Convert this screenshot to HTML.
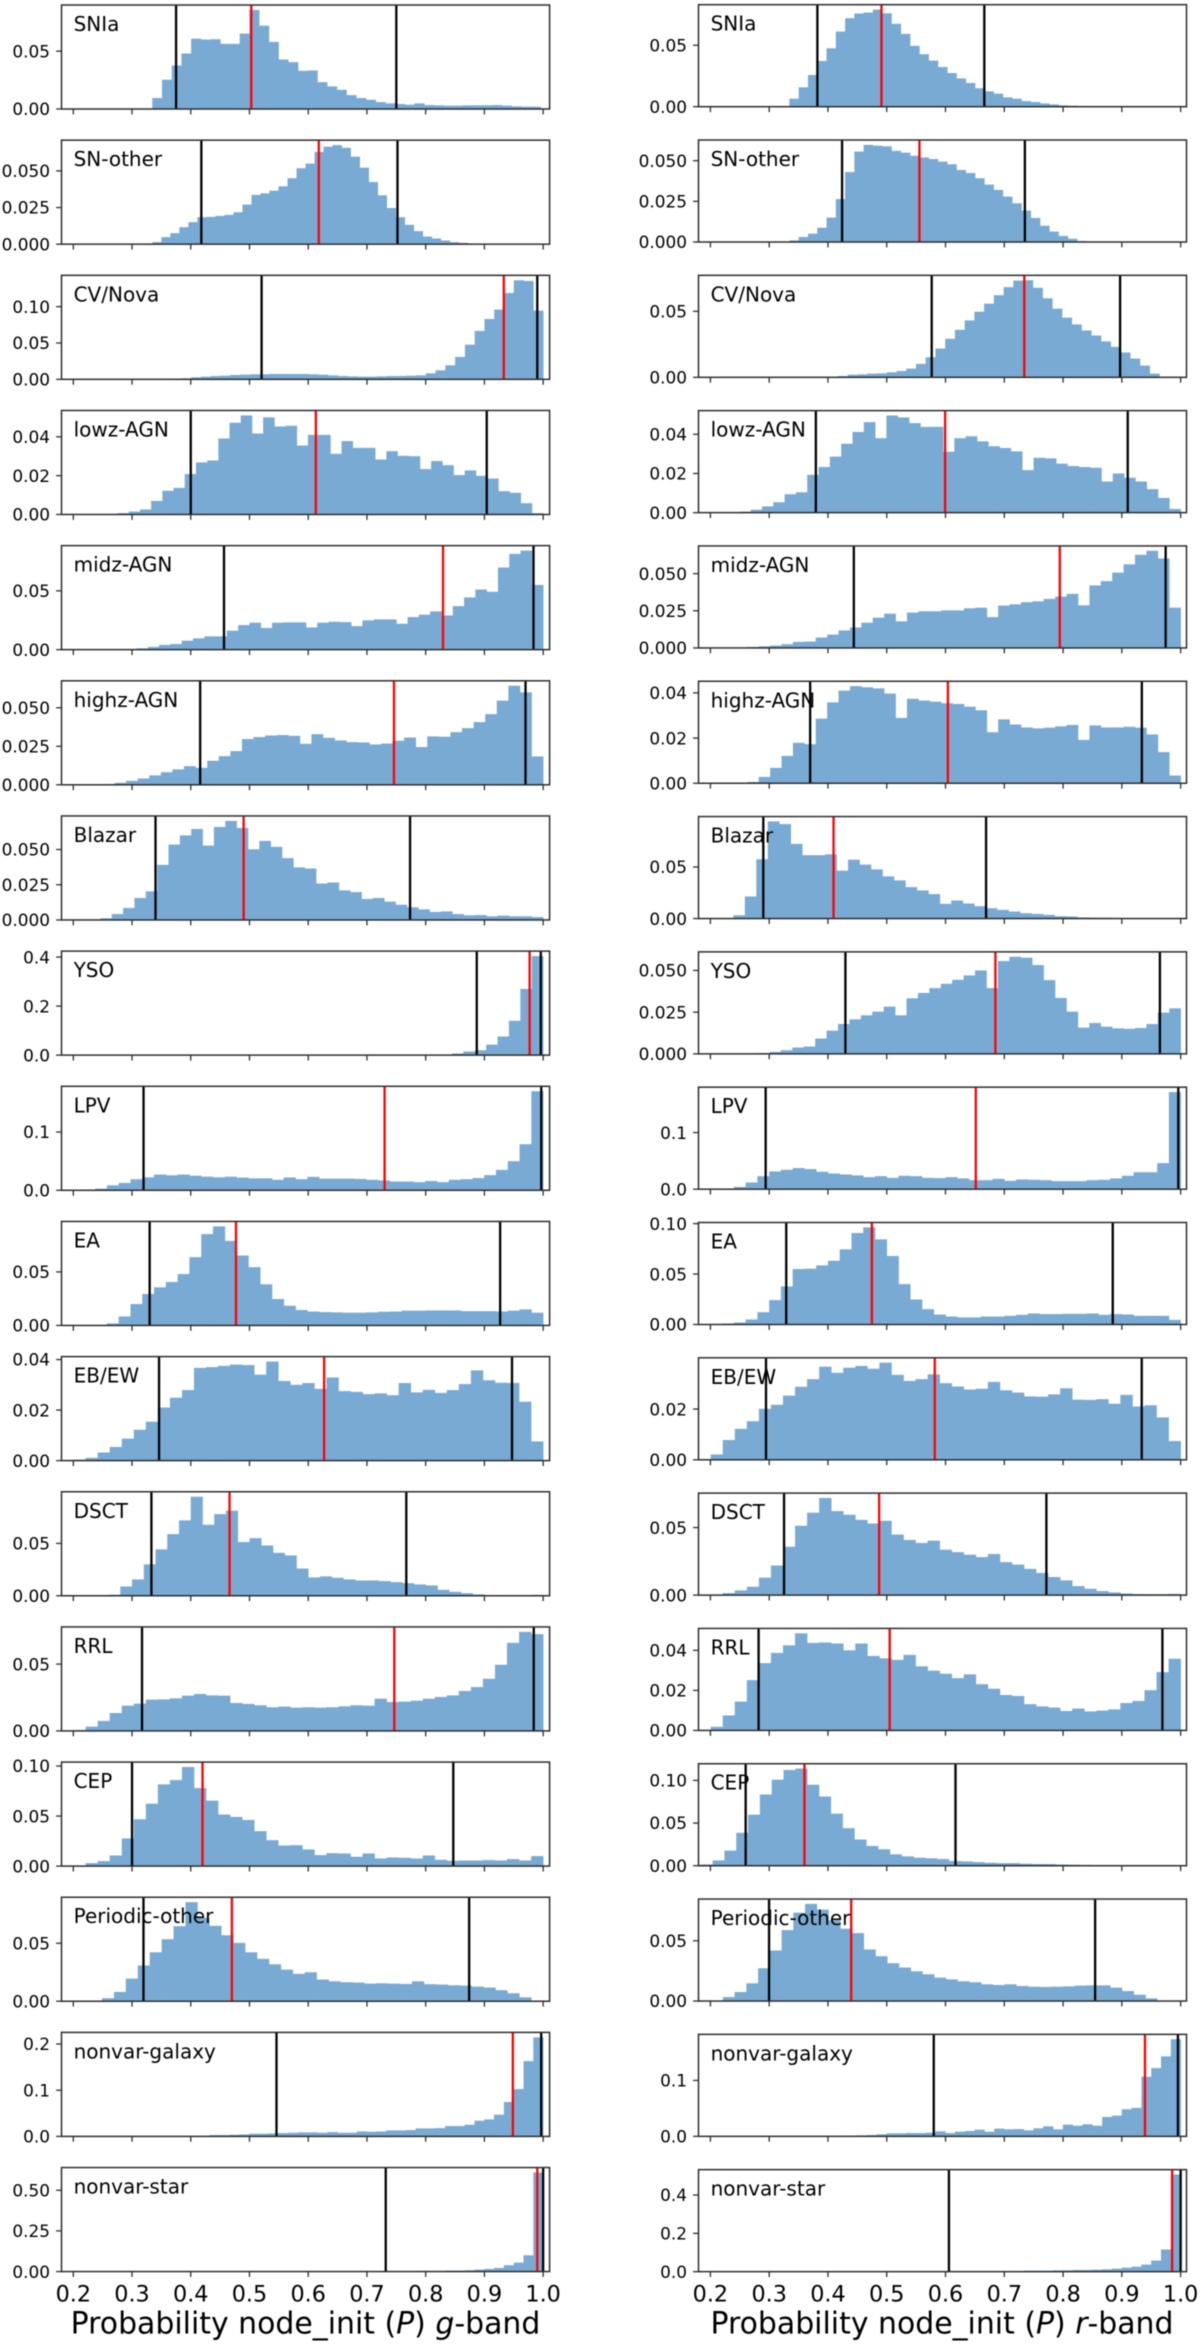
<!DOCTYPE html>
<html lang="en">
<head>
<meta charset="utf-8">
<title>Probability node_init histograms by class, g-band and r-band</title>
<style>
html,body{margin:0;padding:0;background:#fff;}
svg{display:block;filter:blur(0.45px);}
text{font-family:"DejaVu Sans","Liberation Sans",sans-serif;fill:#000;}
</style>
</head>
<body>
<svg id="chart" xmlns="http://www.w3.org/2000/svg" width="1200" height="2346" viewBox="0 0 1200 2346">
<rect x="0" y="0" width="1200" height="2346" fill="#fff"></rect>
<text x="305.5" y="2333.5" font-size="29.9" text-anchor="middle">Probability node_init (<tspan font-style="italic">P</tspan>) <tspan font-style="italic">g</tspan>-band</text>
<text x="942" y="2333.5" font-size="29.9" text-anchor="middle">Probability node_init (<tspan font-style="italic">P</tspan>) <tspan font-style="italic">r</tspan>-band</text>
</svg>
<script>
// Category names
const classNames = ['SNIa','SN-other','CV/Nova','lowz-AGN','midz-AGN','highz-AGN','Blazar','YSO','LPV','EA','EB/EW','DSCT','RRL','CEP','Periodic-other','nonvar-galaxy','nonvar-star'];
const xTickLabels = ['0.2','0.3','0.4','0.5','0.6','0.7','0.8','0.9','1.0'];
// Bin heights are in thousandths of the normalised fraction
const valueUnit = 0.001;

// g-band histograms
const gSNIa = [9.5,25.3,37.6,48,60.8,60,60.3,56.3,56.3,65.2,85.6,72,58,42.8,40.5,33,33.3,23.2,19.5,16.6,12,9.5,8,6,4.9,4.3,3.7,4.9,3.4,3.2,2.9,2.9,3.2,3.2,3.2,3.4,2.9,2.3,2,2];
const gSNOther = [1.4,4.8,7.5,11.6,15,18.4,18.6,19.3,20,21.8,27,33.6,34.7,36.5,39.5,45,51.8,55,63,66.5,67.6,65.8,59.7,52.2,42.4,33.4,24.7,18.4,13.2,8.9,5.2,3.9,2.5,1.4,0.9,0.4,0.3,0.2,0.1,0.1];
const gCVNova = [0.3,0.5,0.9,1.4,2.8,3.7,4.6,5,6,6.4,6.9,6.9,7.3,7.3,7.3,7.3,6.9,6.4,5.5,4.6,4.1,3.7,3.7,4.1,4.6,4.6,5,5.5,8.3,12.4,19.3,30.8,47.7,66.6,83,96,118.9,136.3,135.4,94.5];
const gLowz = [0,0.2,0.7,1.5,2.6,7,12.2,13.7,20.8,26.8,27.8,39.1,47.2,51,41.7,50,45.3,45.7,35.5,41,41,31.2,37.8,34.3,34.3,28.3,32.6,30.2,30,23.4,27.5,25.4,20.3,22.7,19.9,18.5,12,11.2,5.8,0.7];
const gMidz = [0,0.05,0.1,0.4,1.1,2.3,4,4.8,7.6,9.6,11.3,11.3,16.1,20.9,22.9,18.4,22.9,23.2,23.2,18.9,22.9,23.7,23.4,20,24.9,25.7,25.7,22,27.7,29.7,32.5,29.1,37,44.4,51.1,49.2,69.8,81.4,84.2,55];
const gHighz = [0,0.1,0.3,1.3,2.6,4.1,6.1,8.2,10,12.1,11,15.6,18.6,21.9,29.7,31,32,32.3,31.8,26.6,32.9,30.5,28.8,27.7,27.5,26.2,26.8,28.6,30.7,24.5,31.4,31.2,34.2,36.8,40.7,45.9,54.6,64.3,60,18.4];
const gBlazar = [0.2,1.2,4.2,8.5,15.6,20.3,39.1,53.5,60,64.6,52.8,66,70.3,65.3,50.2,56.1,51.9,43.9,37.3,36.5,25.9,26.6,21,19.8,14.9,15.6,13,10.8,9,7.5,5.7,6.1,4.2,3.3,3.5,2.6,3.1,2.6,2.6,2.1];
const gYSO = [0,0,0,0,0,0,0,0,0,0,0.1,0.1,0.1,0.1,0.1,0.1,0.1,0.1,0.1,0.1,0.1,0.2,0.2,0.2,0.2,0.2,0.3,0.3,0.4,0.8,1.5,2.7,6.8,15,20,43,76,140,270,404];
const gLPV = [0.1,0.5,2.9,8.6,12.6,19,22.3,27,25.7,27,25,23.4,22.3,23.4,21.7,20.5,20.5,18,22,19,23,20,20,20,19.4,18,17,15,15,14,16,14,18,19,21,26,35,50,79,170];
const gEA = [0,0.1,0.2,1.9,8.4,20,29.4,35.6,40.6,48,63.8,85.3,92.5,79,65.3,54.4,38.4,24.7,18.4,14.4,13,12.5,12.2,11.9,11.9,12.2,12.8,13,13.8,13.8,14,14,14,13.4,13.4,13.4,13,13.8,15,11.9];
const gEBEW = [0,0.4,1.1,3.2,5.4,8.7,12.2,15.4,21,24.9,27.9,36.7,37,37.5,38,37.8,34,39.2,31.5,30,30.7,28.4,32.9,27.5,27.2,26.3,26.6,25.9,30.7,27,28,26.8,27.9,30.3,35.7,31.8,30.8,30.7,23.3,7.6];
const gDSCT = [0,0,0.1,1,8.9,15.6,30,44.3,58.9,72,94.6,67.8,78,81.2,51.3,55,48,41,38.5,26,17.5,18.5,17.2,15.6,14.6,14.6,14,13,12,10.8,9.9,5.7,3.8,2.5,1.3,0.6,0.5,0.4,0.5,0.9];
const gRRL = [0.1,0.7,3.2,7.5,13.4,18.9,20.4,23.4,23.6,24.4,26.4,27.6,26.6,26.4,20.9,20.2,19.2,17.7,18.2,17.4,17.7,17.4,17.7,18.4,19.2,18.9,24.1,21.6,21.9,22.6,24.1,25.4,26.6,29.9,32.8,39,49.5,65.9,74.1,72.4];
const gCEP = [0,0.5,3,5,10.6,27.6,46.8,62.4,81.7,86,99,78,65.4,51.5,49.1,46.1,34.9,25.9,20.6,20.9,16.6,11,12.9,12.6,9.3,12.6,7.6,8.6,8.3,7.6,10.6,6.3,5.3,5.6,5.6,6,5.6,7,5.6,10];
const gPeriodic = [0,0.1,0.3,2.6,8,19.5,30.8,42.2,53.5,64.7,85.4,71.9,65,56.9,50.3,42.2,36.5,31.9,27.3,23.6,25,18.7,17.2,16.4,16.1,15.2,15.5,15.2,14.9,17.2,14.7,14.4,13.8,13.5,12.6,11.8,9.5,6.9,3.4,0.6];
const gGalaxy = [0,0.1,0.3,0.7,1.4,1.4,2.9,2.9,3.6,4.3,5.8,5.8,6.5,7.2,7.9,8.7,8.7,7.9,9.4,7.9,7.9,10.8,10.1,10.8,13,13,13.7,17.3,17.3,18,22.4,22.4,25.3,33.9,36.8,47,74.4,102.5,163,214.4];
const gStar = [0,0,0,0,0,0,0,0,0,0,0.1,0.1,0.1,0.1,0.1,0.1,0.1,0.1,0.1,0.1,0.3,0.5,1,1.2,2,2,2,4,4,4,6,6,8.2,12.3,16.4,22.5,39,55,100,609];

// r-band histograms
const rSNIa = [6.5,15.8,25.8,37.2,47.5,61.1,72,75.8,76.6,79,76,67.4,59.2,49.5,42.7,37.5,32.3,27.4,23,19.3,15,12.5,10.6,7.6,6.5,4.6,3.8,2.7,1.9,1.1,0.8,0.6,0.5,0.4,0.3,0.2,0.1,0.1,0.1,0.1];
const rSNOther = [1,3.1,5.1,8.8,15,26.4,43,55.6,59.7,59.2,58.8,56,54.9,53,52,51,49.4,47.8,44.3,42.4,39.2,35.3,32,27.9,23.8,19.3,14.8,10,6.4,3.7,2,0.6,0.2,0.1,0.1,0.05,0.05,0,0,0];
const rCVNova = [0,0,0,0,0.2,1,2,2.3,2.8,3,3.8,4.8,6.6,10.2,15.2,21.8,29.2,36,43.1,49.7,55.8,62.2,68.3,73.3,73.6,67.8,59.9,52,45.2,40.1,35.5,31.7,27.2,23.1,18.8,14.2,8.9,2.8,0.3,0.1];
const rLowz = [0.1,0.5,1.5,3.2,5.3,9.4,10.4,19.3,23.3,28.6,35.2,41.2,46.2,38,49.6,48.6,45.7,43.8,43.8,31.1,38,39,36.4,33.9,33,31.3,21.7,28,27.7,25,23.8,23.3,22.9,15.9,20,17.8,15.9,12,7.5,1.9];
const rMidz = [0.1,0.3,0.7,1.1,1.6,2.5,4.1,4.3,7,9,11.8,13.8,17,20.4,23.1,17.9,23.8,24.7,24.7,25.3,25.3,26.7,27.1,20.8,28.5,29.4,30.8,31.4,33,34.6,36.4,28.7,42.1,45,50.7,56.3,62.7,65.4,60.2,27.1];
const rHighz = [0,0.1,0.6,2.8,6.8,12.1,17.9,17.3,28.6,35.8,41,43,42.5,42,39.7,28.9,37.4,36.6,36.1,35.4,35.1,33.9,32.3,22.6,28.3,26,24.7,24.3,24.6,25.2,25.8,19.2,25.6,24.7,24.7,25,24.6,21.6,13.8,3.4];
const rBlazar = [0,3.2,21.4,57.5,94.2,91.6,72.4,61.4,61.4,62.3,46.4,57.1,52.3,47.7,40.9,37,30.5,27.3,23.7,14.3,17.5,14.6,12,10,8.4,6.8,5.2,4.5,3.6,2.3,2,1.1,0.9,0.8,0.6,0.4,0.3,0.3,0.3,0.2];
const rYSO = [0,0.1,0.2,0.5,1.2,2.2,3.8,4.4,9.2,13.9,17.9,20.7,23.1,25.3,28.3,23.1,33.3,36.5,39.4,42,44.4,47,50,39.4,55.6,58.2,57.6,53.2,44.2,33.5,25.3,15.7,18.5,16.3,15.3,15,15.5,17.9,24.7,27.3];
const rLPV = [0.2,0.8,4,11.8,23,31.4,34.3,37.3,35.5,30.8,27.8,26,24.3,21.3,23,20,23.7,23,20,19.5,21.3,19,16,16,18.3,14.8,17.2,16.6,16,14.2,14.2,14.2,16,16.6,19,23.7,30,30,46,171.6];
const rEA = [0.3,1,2,5,12.2,24.2,37.7,55,55.3,58.6,63.2,74.5,90.7,96.3,84.4,67.9,40,24.8,15.2,9.9,7.9,7,7,7.9,7.9,8.6,9.6,10.9,10.3,10.3,10.6,10.6,10.9,9.6,10.3,9.9,8.6,8.6,8.6,4.6];
const rEBEW = [0,2.1,7.8,12.2,15.2,20.1,21.7,25.3,28.8,31.8,36.7,34.3,36.3,37,35.9,38.3,33.5,31.1,31.8,33.7,30.2,28.9,27.7,28,30.7,27.4,26.5,25,24.9,25.8,28.2,23.7,23.6,23.9,22.1,25.6,21,21.5,16.7,7.4];
const rDSCT = [0,0.1,1.5,3.5,6.2,12.9,21.9,35.8,51.3,61,71.9,62.2,59.5,55.7,53,55,44.8,40.8,38.6,40.3,33.6,31.8,29.9,28.1,30.4,24.4,22.6,19.4,16.4,13.4,10.9,6.7,4.7,3,2,1.2,0.8,0.7,0.7,0.9];
const rRRL = [0,1.8,7.5,14.4,25.1,33.6,38.7,42.5,48.5,43.7,43.9,43.4,40,43.4,37.2,36,35.2,37.7,32,29.8,28.3,26.1,28,23.1,20.8,17.7,17.2,13.1,12,11.4,9.7,10.9,9.5,9.9,10.5,13.7,14.7,20.1,29.1,35.8];
const rCEP = [1.5,6.3,17.7,38.6,59.8,83.5,100.8,112.2,113.8,94.9,81.1,61,44,30.7,23.2,19.3,13.4,11,9.4,8.7,7.9,5.5,5.1,4.3,3.5,3.1,3.1,2.4,2,2,1.4,1.2,1,0.8,0.7,0.5,0.4,0.3,0.2,0.1];
const rPeriodic = [0.2,3.3,7.5,14.7,27.2,41.9,58.9,73.3,80.6,75.8,67,60,56.4,42.8,37.2,31.4,27.8,24.7,22.2,19.4,18,16.4,15.6,13.9,13.3,13.9,12.5,11.9,11.7,11.9,12.2,12.8,13,13,11.1,8.3,5.3,2.2,0.3,0.1];
const rGalaxy = [0,0.1,0.2,0.3,0.6,1,1.2,1.8,2.4,3.6,5.4,5.4,6,6,6.6,9,6,8.4,9.6,12,8.4,13.8,12.6,13,10.8,14.4,18,12.6,21,19,21.5,19,34.7,37,48.5,50.9,106.6,122,143,173.7];
const rStar = [0,0,0,0.1,0.1,0.1,0.2,0.2,0.3,0.4,0.5,0.8,1,1,1.2,1.2,1.5,2,2,2.5,3,3.5,3.5,3.5,5.3,5.3,5.3,7,7,8.8,8.8,10.5,12.3,15.8,21,26.3,36.8,57.9,115.8,507];

const gSeries = [gSNIa,gSNOther,gCVNova,gLowz,gMidz,gHighz,gBlazar,gYSO,gLPV,gEA,gEBEW,gDSCT,gRRL,gCEP,gPeriodic,gGalaxy,gStar];
const rSeries = [rSNIa,rSNOther,rCVNova,rLowz,rMidz,rHighz,rBlazar,rYSO,rLPV,rEA,rEBEW,rDSCT,rRRL,rCEP,rPeriodic,rGalaxy,rStar];

// Histogram value ranges (data units of P)
const gRangeMin = [0.3345,0.3345,0.334,0.2372,0.2307,0.211,0.2268,0.224,0.197,0.197,0.18,0.2,0.18,0.18,0.188,0.332,0.332];
const gRangeMax = [0.996,0.9485,1,1,1,1,1,1,1,1,1,1,1,1,1,1,1];
const rRangeMin = [0.3344,0.3344,0.3344,0.23,0.224,0.224,0.2196,0.2228,0.2,0.2,0.18,0.18,0.18,0.1837,0.2013,0.3325,0.3325];
const rRangeMax = [0.966,0.966,0.997,1,1,1,1,1,1,1,1,1,1,0.9877,1,1,1];

// Marker lines (data units of P)
const gLower = [0.375,0.418,0.5206,0.4,0.4566,0.416,0.34,0.887,0.3196,0.33,0.346,0.333,0.317,0.3,0.3195,0.546,0.732];
const gMedian = [0.503,0.618,0.933,0.613,0.8295,0.746,0.49,0.977,0.73,0.477,0.627,0.466,0.7465,0.42,0.47,0.9484,0.99];
const gUpper = [0.75,0.752,0.99,0.904,0.9836,0.97,0.7734,0.996,0.9968,0.9268,0.947,0.767,0.984,0.847,0.874,0.9967,1.0];
const rLower = [0.382,0.424,0.5765,0.3794,0.444,0.3697,0.29,0.4297,0.294,0.329,0.2946,0.3253,0.282,0.26,0.2998,0.58,0.6058];
const rMedian = [0.491,0.5556,0.734,0.5993,0.7944,0.604,0.4095,0.6848,0.6515,0.4747,0.5817,0.487,0.505,0.36,0.4395,0.9393,0.9855];
const rUpper = [0.666,0.735,0.897,0.91,0.9745,0.934,0.669,0.9647,0.996,0.8845,0.9338,0.7716,0.969,0.617,0.8545,0.9954,1.0];

// Y tick labels per panel
const gYTicks = [['0.00','0.05'],['0.000','0.025','0.050'],['0.00','0.05','0.10'],['0.00','0.02','0.04'],['0.00','0.05'],['0.000','0.025','0.050'],['0.000','0.025','0.050'],['0.0','0.2','0.4'],['0.0','0.1'],['0.00','0.05'],['0.00','0.02','0.04'],['0.00','0.05'],['0.00','0.05'],['0.00','0.05','0.10'],['0.00','0.05'],['0.0','0.1','0.2'],['0.00','0.25','0.50']];
const rYTicks = [['0.00','0.05'],['0.000','0.025','0.050'],['0.00','0.05'],['0.00','0.02','0.04'],['0.000','0.025','0.050'],['0.00','0.02','0.04'],['0.00','0.05'],['0.000','0.025','0.050'],['0.0','0.1'],['0.00','0.05','0.10'],['0.00','0.02'],['0.00','0.05'],['0.00','0.02','0.04'],['0.00','0.05','0.10'],['0.00','0.05'],['0.0','0.1'],['0.0','0.2','0.4']];

const svgNS = 'http://www.w3.org/2000/svg';
const chart = document.getElementById('chart');
const binCount = 40;
const barColor = '#79aad3';
const spineColor = '#2e2e2e';

function make(tag, attrs, parent) {
  const el = document.createElementNS(svgNS, tag);
  for (const k in attrs) el.setAttribute(k, attrs[k]);
  parent.appendChild(el);
  return el;
}

function drawColumn(series, rangeMin, rangeMax, lower, median, upper, yTicks, geo) {
  const xScale = v => geo.x02 + (v - 0.2) * geo.pxPerUnit;
  series.forEach(function (values, i) {
    const bottom = geo.bottom0 + geo.step * i;
    const top = bottom - geo.height;
    const peak = Math.max.apply(null, values) * valueUnit;
    const yScale = v => bottom - (v / (peak * 1.05)) * geo.height;

    const panel = make('g', {}, chart);
    
    

    const binWidth = (rangeMax[i] - rangeMin[i]) / binCount;
    values.forEach(function (value, b) {
      const xa = xScale(rangeMin[i] + b * binWidth);
      const xb = xScale(rangeMin[i] + (b + 1) * binWidth);
      const yTop = yScale(value * valueUnit);
      const bar = make('rect', {x: xa, y: yTop, width: xb - xa + 0.3, height: Math.max(0, bottom - yTop), fill: barColor}, panel);
      
      
    });

    const lowerLine = make('line', {x1: xScale(lower[i]), x2: xScale(lower[i]), y1: top, y2: bottom, stroke: '#000', 'stroke-width': 2.3}, panel);
    
    

    const upperLine = make('line', {x1: xScale(upper[i]), x2: xScale(upper[i]), y1: top, y2: bottom, stroke: '#000', 'stroke-width': 2.3}, panel);
    
    

    const medianLine = make('line', {x1: xScale(median[i]), x2: xScale(median[i]), y1: top, y2: bottom, stroke: '#f00', 'stroke-width': 2.3}, panel);
    
    

    const frame = make('rect', {x: geo.left, y: top, width: geo.right - geo.left, height: geo.height, fill: 'none', stroke: spineColor, 'stroke-width': 1.5}, panel);
    
    

    yTicks[i].forEach(function (label) {
      const yPos = yScale(Number(label));
      const tick = make('line', {x1: geo.left - 5.4, x2: geo.left, y1: yPos, y2: yPos, stroke: spineColor, 'stroke-width': 1.3}, panel);
      
      
      const tickText = make('text', {x: geo.left - 11.5, y: yPos + 6.2, 'font-size': 16.9, 'text-anchor': 'end'}, panel);
      
      
      tickText.textContent = label;
    });

    xTickLabels.forEach(function (label) {
      const xPos = xScale(Number(label));
      const tick = make('line', {x1: xPos, x2: xPos, y1: bottom, y2: bottom + 5.4, stroke: spineColor, 'stroke-width': 1.3}, panel);
      
      
      if (i === series.length - 1) {
        const tickText = make('text', {x: xPos, y: bottom + 30, 'font-size': 22.3, 'text-anchor': 'middle'}, panel);
        
        
        tickText.textContent = label;
      }
    });

    const nameText = make('text', {x: geo.labelX, y: top + 26, 'font-size': 20}, panel);
    
    
    nameText.textContent = classNames[i];
  });
}

drawColumn(gSeries, gRangeMin, gRangeMax, gLower, gMedian, gUpper, gYTicks,
  {left: 61.5, right: 549.6, x02: 73.3, pxPerUnit: 587.3, bottom0: 109, step: 135.16, height: 104, labelX: 73.6});
drawColumn(rSeries, rRangeMin, rRangeMax, rLower, rMedian, rUpper, rYTicks,
  {left: 698.5, right: 1186.5, x02: 710.4, pxPerUnit: 587.8, bottom0: 106.7, step: 135.31, height: 102, labelX: 710.6});
</script>
</body>
</html>
